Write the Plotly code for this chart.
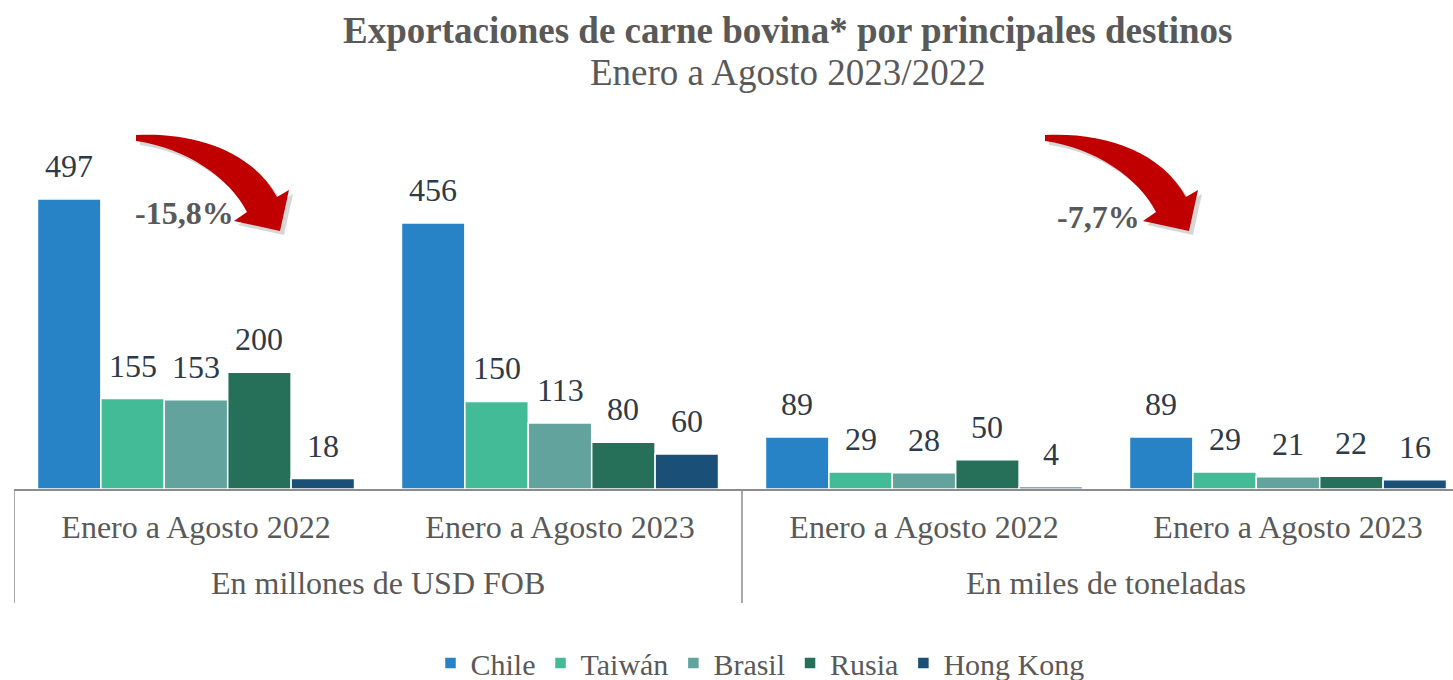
import plotly.graph_objects as go

# ---- data ----
groups = ["En millones de USD FOB", "En miles de toneladas"]
periods = ["Enero a Agosto 2022", "Enero a Agosto 2023",
           "Enero a Agosto 2022", "Enero a Agosto 2023"]
countries = ["Chile", "Taiwán", "Brasil", "Rusia", "Hong Kong"]
chile = [497, 456, 89, 89]
taiwan = [155, 150, 29, 29]
brasil = [153, 113, 28, 21]
rusia = [200, 80, 50, 22]
hongkong = [18, 60, 4, 16]
colors = ["#2782C6", "#43BB96", "#62A39D", "#26705A", "#1A4F77"]
changes = ["-15,8%", "-7,7%"]

series = [chile, taiwan, brasil, rusia, hongkong]
xpos = list(range(len(periods)))

W, H = 1453, 680
L, T_, B0 = 14, 130, 489  # plot left, plot top, baseline (pixels)
PW = W - L
PH = B0 - T_
BARGAP = 0.129
GREY = "#595959"
AXIS = "#8C8C8C"
FONT = "Liberation Serif"

def px2x(px):
    return (px - L) / PW

def py2y(py):
    return (B0 - py) / PH

fig = go.Figure()
for name, vals, col in zip(countries, series, colors):
    fig.add_trace(go.Bar(
        name=name, x=xpos, y=vals,
        marker=dict(color=col, line=dict(color="white", width=1.5)),
        hoverinfo="y+name",
    ))

# value labels
n = len(series)
w = (1 - BARGAP) / n
for j, vals in enumerate(series):
    for i, v in enumerate(vals):
        fig.add_annotation(
            x=xpos[i] + (j - (n - 1) / 2) * w, y=v, xref="x", yref="y",
            text=str(v), showarrow=False, yanchor="bottom", yshift=13,
            font=dict(family=FONT, size=32, color="#2E3A47"),
        )

# outer group labels and dividers
for k, g in enumerate(groups):
    fig.add_annotation(x=2 * k + 0.5, y=py2y(583), xref="x", yref="paper",
                       text=g, showarrow=False, yanchor="middle",
                       font=dict(family=FONT, size=32, color=GREY))
for xd in (-0.5, 1.5, 3.5):
    fig.add_shape(type="line", xref="x", yref="paper", x0=xd, x1=xd,
                  y0=0, y1=py2y(603), line=dict(color=AXIS, width=1.5))

# curved arrows
def arrow_path(ox, oy, dx=0, dy=0):
    def P(x, y):
        return f"{px2x(ox + x + dx):.5f},{py2y(oy + y + dy):.5f}"
    return ("M" + P(0, 0) +
            " C" + P(55, -3) + " " + P(115, 14) + " " + P(141, 62) +
            " L" + P(153, 55) + " L" + P(144, 96) + " L" + P(98, 86) +
            " L" + P(111, 77) +
            " C" + P(94, 43) + " " + P(50, 13) + " " + P(0, 6) + " Z")

for ox in (136, 1045):
    fig.add_shape(type="path", xref="paper", yref="paper",
                  path=arrow_path(ox, 135, 4, 4),
                  fillcolor="rgba(0,0,0,0.16)", line=dict(width=0), layer="above")
    fig.add_shape(type="path", xref="paper", yref="paper",
                  path=arrow_path(ox, 135),
                  fillcolor="#C00000", line=dict(width=0), layer="above")

for txt, px, py in zip(changes, (133, 1055), (213, 217)):
    fig.add_annotation(x=px2x(px), y=py2y(py), xref="paper", yref="paper",
                       text=f"<b>{txt}</b>", showarrow=False,
                       xanchor="left", yanchor="middle",
                       font=dict(family=FONT, size=32, color=GREY))

# titles
fig.add_annotation(x=px2x(788), y=py2y(31), xref="paper", yref="paper",
                   text="<b>Exportaciones de carne bovina* por principales destinos</b>",
                   showarrow=False, xanchor="center", yanchor="middle",
                   font=dict(family=FONT, size=37, color=GREY))
fig.add_annotation(x=px2x(788), y=py2y(73), xref="paper", yref="paper",
                   text="Enero a Agosto 2023/2022",
                   showarrow=False, xanchor="center", yanchor="middle",
                   font=dict(family=FONT, size=37, color=GREY))

ymax = PH / (290 / 497)
fig.update_layout(
    width=W, height=H,
    margin=dict(l=L, r=0, t=T_, b=H - B0, autoexpand=False),
    paper_bgcolor="white", plot_bgcolor="white",
    barmode="group", bargap=BARGAP, bargroupgap=0,
    showlegend=True,
    legend=dict(orientation="h", x=px2x(760), xanchor="center",
                yref="container", y=(H - 663) / H, yanchor="middle",
                font=dict(family=FONT, size=30, color=GREY),
                itemwidth=30, tracegroupgap=0),
    xaxis=dict(range=[-0.5, -0.5 + PW / 364], tickvals=xpos, ticktext=periods,
               showline=True, linecolor=AXIS, linewidth=1.5,
               ticks="", showgrid=False, zeroline=False, automargin=False,
               ticklabelstandoff=9,
               tickfont=dict(family=FONT, size=32, color=GREY)),
    yaxis=dict(range=[0, ymax], visible=False, showgrid=False, zeroline=False),
    font=dict(family=FONT),
)

fig.write_html("out.html", config={"displayModeBar": False},
               post_script="document.body.style.margin='0px';document.body.style.overflow='hidden';")
